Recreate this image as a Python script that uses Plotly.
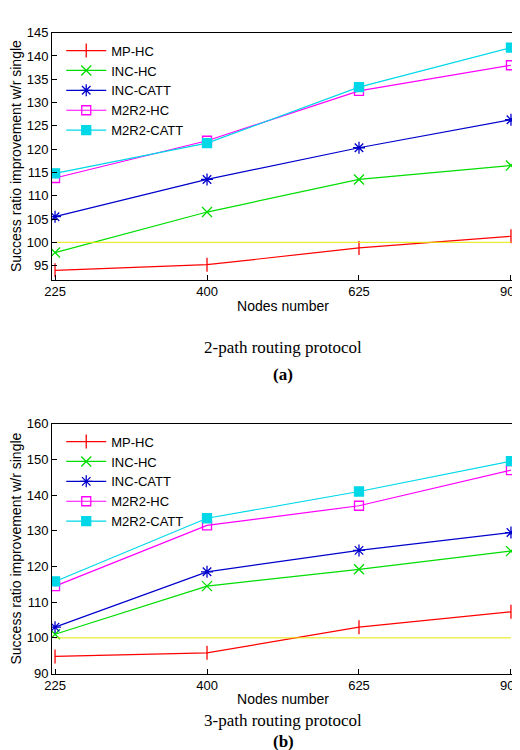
import plotly.graph_objects as go

nodes = ["225", "400", "625", "900"]
names = ["MP-HC", "INC-HC", "INC-CATT", "M2R2-HC", "M2R2-CATT"]
colors = ["#ff0000", "#00dd00", "#0000cc", "#ff00ff", "#00d8e8"]
symbols = ["line-ns", "x-thin", "asterisk", "square-open", "square"]

top_vals = [
    [94.0, 95.2, 98.8, 101.3],
    [97.8, 106.5, 113.5, 116.5],
    [105.5, 113.5, 120.3, 126.3],
    [113.8, 121.8, 132.5, 138.0],
    [114.8, 121.3, 133.3, 141.8],
]
bot_vals = [
    [94.8, 95.8, 103.0, 107.3],
    [101.0, 114.5, 119.2, 124.3],
    [103.0, 118.5, 124.5, 129.5],
    [114.5, 131.5, 137.0, 147.0],
    [115.8, 133.5, 141.0, 149.5],
]
baseline = [100, 100, 100, 100]

fig = go.Figure()
for i, n in enumerate(names):
    for vals, xa, ya, lg in [(top_vals, "x", "y", "legend"), (bot_vals, "x2", "y2", "legend2")]:
        fig.add_trace(go.Scatter(
            x=nodes, y=vals[i], name=n, xaxis=xa, yaxis=ya, legend=lg,
            mode="lines+markers",
            line=dict(color=colors[i], width=1.2),
            marker=dict(symbol=symbols[i], size=10 if i < 3 else 9, color=colors[i],
                        line=dict(color=colors[i], width=1.3)),
        ))
for xa, ya in [("x", "y"), ("x2", "y2")]:
    fig.add_trace(go.Scatter(x=nodes, y=baseline, xaxis=xa, yaxis=ya, mode="lines",
                             line=dict(color="#e8e800", width=1), showlegend=False,
                             hoverinfo="skip"))

axis = dict(showgrid=False, zeroline=False, mirror=True, showline=True, linecolor="black",
            ticks="inside", tickcolor="black", ticklen=5, tickfont=dict(size=13, color="black"))
legend = dict(x=0.02, xanchor="left", bgcolor="rgba(0,0,0,0)", font=dict(size=13, color="black"),
              tracegroupgap=0, itemwidth=40)
serif = "Liberation Serif, Times New Roman, serif"
fig.update_layout(
    width=520, height=750, margin=dict(l=44, r=14, t=0, b=0),
    plot_bgcolor="white", paper_bgcolor="white",
    font=dict(family="Liberation Sans, Arial, sans-serif", color="black"),
    xaxis=dict(axis, domain=[0, 1], anchor="y", range=[-0.02, 3.02],
               title=dict(text="Nodes number", font=dict(size=14), standoff=2)),
    yaxis=dict(axis, domain=[0.64, 0.976], anchor="x", range=[92, 145], dtick=5,
               title=dict(text="Success ratio improvement w/r single", font=dict(size=14), standoff=2)),
    xaxis2=dict(axis, domain=[0, 1], anchor="y2", range=[-0.02, 3.02],
                title=dict(text="Nodes number", font=dict(size=14), standoff=2)),
    yaxis2=dict(axis, domain=[0.104, 0.444], anchor="x2", range=[90, 160], dtick=10,
                title=dict(text="Success ratio improvement w/r single", font=dict(size=14), standoff=2)),
    legend=dict(legend, y=0.972, yanchor="top"),
    legend2=dict(legend, y=0.44, yanchor="top"),
    annotations=[
        dict(text=t, x=0.5, y=1 - py / 750, xref="paper", yref="paper", yanchor="middle",
             showarrow=False, font=dict(family=serif, size=17))
        for t, py in [("2-path routing protocol", 339), ("<b>(a)</b>", 367),
                      ("3-path routing protocol", 720), ("<b>(b)</b>", 741)]
    ],
)
fig.write_html("out.html")
